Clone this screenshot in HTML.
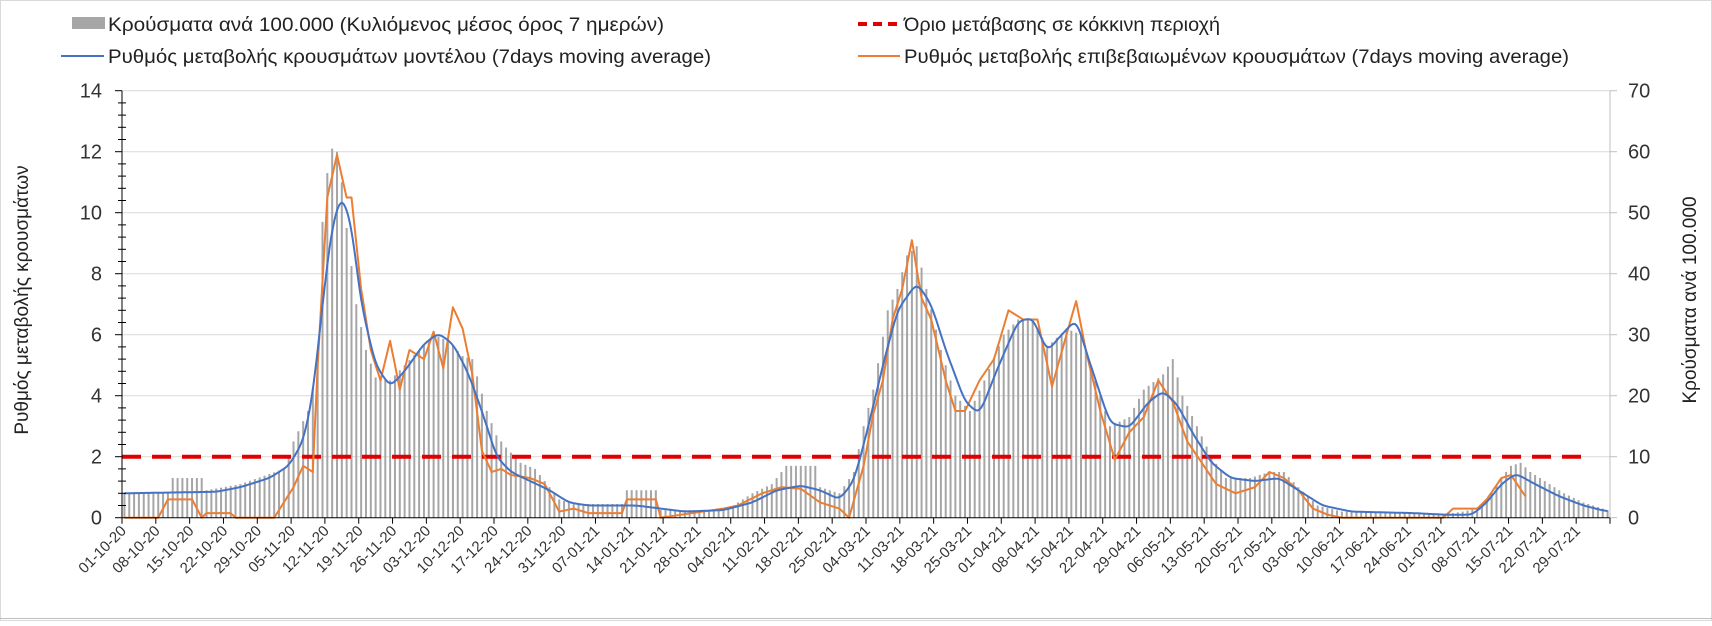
<!DOCTYPE html>
<html><head><meta charset="utf-8">
<style>
html,body{margin:0;padding:0;background:#fff;}
body{width:1712px;height:621px;overflow:hidden;font-family:"Liberation Sans",Arial,sans-serif;}
svg text{font-family:"Liberation Sans",Arial,sans-serif;}
</style></head>
<body>
<svg id="c" width="1712" height="621" xmlns="http://www.w3.org/2000/svg"></svg>
<script>
const X0=122,X1=1610,Y0=517.7,PU=30.5,ND=308,PD=(X1-X0)/ND;
const md=[0,31,61,92,123,151,182,212,243,273,304];
const mi={Oct:0,Nov:1,Dec:2,Jan:3,Feb:4,Mar:5,Apr:6,May:7,Jun:8,Jul:9,Aug:10};
function d(s){const [m,dd]=s.split(' ');return md[mi[m]]+(+dd)-1;}
function P(str){return str.split(';').map(t=>{t=t.trim();const i=t.lastIndexOf(' ');return [d(t.slice(0,i)),+t.slice(i+1)];});}
function interp(pts,x){if(x<=pts[0][0])return pts[0][1];for(let i=1;i<pts.length;i++){if(x<=pts[i][0]){const a=pts[i-1],b=pts[i];return a[1]+(b[1]-a[1])*(x-a[0])/(b[0]-a[0]||1);}}return pts[pts.length-1][1];}
const bars=P("Oct 1 0.8;Oct 10 0.8;Oct 11 1.3;Oct 17 1.3;Oct 18 0.9;Oct 25 1.1;Nov 3 1.6;Nov 5 2.5;Nov 8 3.5;Nov 10 5;Nov 11 9.7;Nov 12 11.3;Nov 13 12.1;Nov 14 12;Nov 15 11;Nov 16 9.5;Nov 18 7;Nov 20 5.5;Nov 22 4.6;Nov 25 4.5;Nov 28 5;Dec 1 5.5;Dec 4 6;Dec 7 5.8;Dec 10 5.3;Dec 12 5.2;Dec 15 3.5;Dec 17 2.7;Dec 19 2.3;Dec 22 1.8;Dec 25 1.6;Dec 27 1.2;Dec 30 0.6;Jan 2 0.45;Jan 12 0.45;Jan 13 0.9;Jan 19 0.9;Jan 20 0.25;Feb 1 0.25;Feb 4 0.4;Feb 8 0.8;Feb 12 1.1;Feb 15 1.7;Feb 21 1.7;Feb 22 1.0;Feb 26 0.8;Mar 1 1.5;Mar 3 3;Mar 5 4.2;Mar 8 6.8;Mar 10 7.5;Mar 12 8.6;Mar 14 8.9;Mar 16 7.5;Mar 19 5.5;Mar 22 4;Mar 25 3.5;Mar 28 4.5;Apr 1 6;Apr 4 6.5;Apr 7 6.5;Apr 10 5.6;Apr 14 6.2;Apr 17 6;Apr 20 4.5;Apr 23 3;Apr 27 3.3;Apr 30 4.2;May 4 4.7;May 6 5.2;May 8 4;May 11 3;May 14 2;May 17 1.3;May 22 1.3;May 26 1.5;May 29 1.5;Jun 1 1;Jun 5 0.4;Jun 10 0.2;Jun 20 0.15;Jul 1 0.1;Jul 5 0.2;Jul 8 0.3;Jul 11 0.8;Jul 13 1.3;Jul 15 1.7;Jul 17 1.8;Jul 19 1.5;Jul 22 1.2;Jul 26 0.8;Jul 30 0.5;Aug 4 0.25");
const blue=P("Oct 1 0.8;Oct 20 0.85;Oct 25 1.0;Oct 31 1.3;Nov 4 1.7;Nov 7 2.5;Nov 9 4;Nov 11 7;Nov 13 9.6;Nov 15 10.6;Nov 17 9.6;Nov 19 7;Nov 22 5;Nov 25 4.3;Nov 28 4.8;Dec 2 5.7;Dec 5 6.05;Dec 8 5.7;Dec 11 4.8;Dec 14 3.5;Dec 17 2;Dec 20 1.5;Dec 24 1.2;Dec 28 0.9;Jan 1 0.5;Jan 5 0.4;Jan 15 0.4;Jan 25 0.2;Feb 2 0.25;Feb 8 0.5;Feb 13 0.9;Feb 18 1.05;Feb 22 0.9;Feb 26 0.6;Mar 1 1.2;Mar 4 3;Mar 7 5;Mar 10 6.8;Mar 14 7.7;Mar 17 7;Mar 20 5.5;Mar 24 3.8;Mar 27 3.4;Mar 31 5;Apr 4 6.45;Apr 7 6.55;Apr 10 5.45;Apr 13 6;Apr 16 6.5;Apr 19 5;Apr 23 3.1;Apr 27 2.95;May 1 3.8;May 4 4.15;May 7 3.7;May 10 2.8;May 14 1.8;May 18 1.3;May 23 1.2;May 28 1.3;Jun 2 0.8;Jun 6 0.4;Jun 12 0.2;Jun 25 0.15;Jul 1 0.1;Jul 7 0.1;Jul 10 0.5;Jul 13 1.1;Jul 16 1.45;Jul 20 1.1;Jul 25 0.7;Jul 30 0.4;Aug 4 0.2");
const orange=P("Oct 1 0;Oct 8 0;Oct 10 0.6;Oct 15 0.6;Oct 17 0;Oct 18 0.15;Oct 23 0.15;Oct 24 0;Nov 1 0;Nov 3 0.5;Nov 5 1.0;Nov 7 1.7;Nov 9 1.5;Nov 10 5;Nov 12 10.5;Nov 14 11.9;Nov 16 10.5;Nov 17 10.5;Nov 19 7.5;Nov 21 5.5;Nov 23 4.5;Nov 25 5.8;Nov 27 4.2;Nov 29 5.5;Dec 2 5.2;Dec 4 6.1;Dec 6 4.9;Dec 8 6.9;Dec 10 6.2;Dec 12 4.7;Dec 14 2.2;Dec 16 1.5;Dec 18 1.6;Dec 20 1.4;Dec 24 1.3;Dec 27 1.1;Dec 30 0.2;Jan 2 0.3;Jan 5 0.15;Jan 12 0.15;Jan 13 0.6;Jan 19 0.6;Jan 20 0;Feb 2 0.3;Feb 5 0.4;Feb 10 0.8;Feb 14 1.0;Feb 18 0.95;Feb 22 0.5;Feb 26 0.3;Feb 28 0;Mar 3 1.7;Mar 5 3.4;Mar 7 4.5;Mar 9 6.5;Mar 11 7.5;Mar 13 9.1;Mar 15 7.2;Mar 17 6.5;Mar 20 4.5;Mar 22 3.5;Mar 24 3.5;Mar 27 4.5;Mar 30 5.2;Apr 2 6.8;Apr 5 6.5;Apr 8 6.5;Apr 11 4.3;Apr 14 6.0;Apr 16 7.1;Apr 18 5.5;Apr 21 3.5;Apr 24 1.9;Apr 27 2.8;Apr 30 3.3;May 3 4.5;May 6 3.8;May 9 2.5;May 12 1.8;May 15 1.1;May 19 0.8;May 23 1.0;May 26 1.5;May 29 1.3;Jun 1 0.9;Jun 4 0.3;Jun 7 0.1;Jun 10 0;Jul 1 0;Jul 3 0.3;Jul 8 0.3;Jul 10 0.6;Jul 13 1.3;Jul 15 1.4;Jul 18 0.7");
let s='';
const Y=v=>Y0-v*PU, Xd=i=>X0+(i+0.5)*PD;
s+=`<rect x="0.5" y="0.5" width="1711" height="620" fill="none" stroke="#d9d9d9"/>`;
s+=`<line x1="0" y1="618.5" x2="1712" y2="618.5" stroke="#bfbfbf"/>`;
for(let v=2;v<=14;v+=2)s+=`<line x1="${X0}" y1="${Y(v)}" x2="${X1}" y2="${Y(v)}" stroke="#d9d9d9"/>`;
for(let i=0;i<ND;i++){const v=interp(bars,i);s+=`<rect x="${(Xd(i)-1).toFixed(2)}" y="${Y(v).toFixed(2)}" width="2" height="${(v*PU).toFixed(2)}" fill="#a6a6a6"/>`;}
s+=`<line x1="${X0}" y1="${Y(2)}" x2="${X1-20}" y2="${Y(2)}" stroke="#e00000" stroke-width="4" stroke-dasharray="19,11"/>`;
function line(pts,end,col,smooth){let vals=[];const st=0.25;for(let t=0;t<=end;t+=st)vals.push([t,interp(pts,t)]);
 if(smooth){const k=Math.round(1.6/st);let out=[];for(let i=0;i<vals.length;i++){let sum=0,w=0;for(let j=-k;j<=k;j++){const q=i+j;if(q<0||q>=vals.length)continue;const ww=Math.exp(-(j*j)/(2*(k/2)*(k/2)));sum+=vals[q][1]*ww;w+=ww;}out.push([vals[i][0],sum/w]);}vals=out;}
 const p=vals.map(v=>Xd(v[0]).toFixed(1)+','+Y(v[1]).toFixed(1));return `<polyline points="${p.join(' ')}" fill="none" stroke="${col}" stroke-width="2" stroke-linejoin="round"/>`;}
s+=line(orange,d("Jul 18"),'#ed7d31',false);
s+=line(blue,ND-1,'#4472c4',true);
s+=`<line x1="${X0}" y1="${Y(14)}" x2="${X0}" y2="${Y0}" stroke="#000"/>`;
s+=`<line x1="${X0}" y1="${Y0}" x2="${X1}" y2="${Y0}" stroke="#000"/>`;
s+=`<line x1="${X1}" y1="${Y(14)}" x2="${X1}" y2="${Y0}" stroke="#bfbfbf"/>`;
for(let k=0;k<=35;k++){const v=k*0.4,y=Y(v);const maj=Math.abs(v/2-Math.round(v/2))<1e-6;s+=`<line x1="${maj?X0-7:X0-4}" y1="${y}" x2="${X0+(maj?0:4)}" y2="${y}" stroke="#000"/>`;}
for(let v=0;v<=14;v+=2){s+=`<text x="${X0-20}" y="${Y(v)+7}" font-size="20" text-anchor="end" fill="#333">${v}</text>`;
 s+=`<line x1="${X1}" y1="${Y(v)}" x2="${X1+7}" y2="${Y(v)}" stroke="#bfbfbf"/>`;
 s+=`<text x="${X1+18}" y="${Y(v)+7}" font-size="20" fill="#333">${v*5}</text>`;}
const start=new Date(2020,9,1);
for(let w=0;w<=44;w++){const x=X0+w*7*PD;s+=`<line x1="${x}" y1="${Y0}" x2="${x}" y2="${Y0+6}" stroke="#000"/>`;
 if(w<44){const dt=new Date(start.getTime()+w*7*86400000);const lab=String(dt.getDate()).padStart(2,'0')+'-'+String(dt.getMonth()+1).padStart(2,'0')+'-'+String(dt.getFullYear()%100);
 s+=`<text transform="translate(${x+5},${Y0+14}) rotate(-45)" font-size="15" text-anchor="end" fill="#333">${lab}</text>`;}}
s+=`<text transform="translate(28,300) rotate(-90)" font-size="19" text-anchor="middle" fill="#222">Ρυθμός μεταβολής κρουσμάτων</text>`;
s+=`<text transform="translate(1696,300) rotate(-90)" font-size="19" text-anchor="middle" fill="#222">Κρούσματα ανά 100.000</text>`;
s+=`<rect x="72" y="17" width="33" height="12" fill="#a6a6a6"/><text x="108" y="31" font-size="19.5" textLength="556" lengthAdjust="spacingAndGlyphs" fill="#222">Κρούσματα ανά 100.000 (Κυλιόμενος μέσος όρος 7 ημερών)</text>`;
s+=`<line x1="61" y1="56" x2="104" y2="56" stroke="#4472c4" stroke-width="2"/><text x="108" y="63" font-size="19.5" textLength="603" lengthAdjust="spacingAndGlyphs" fill="#222">Ρυθμός μεταβολής κρουσμάτων μοντέλου (7days moving average)</text>`;
s+=`<line x1="858" y1="24" x2="900" y2="24" stroke="#e00000" stroke-width="4" stroke-dasharray="9,6"/><text x="904" y="31" font-size="19.5" textLength="316" lengthAdjust="spacingAndGlyphs" fill="#222">Όριο μετάβασης σε κόκκινη περιοχή</text>`;
s+=`<line x1="858" y1="56" x2="900" y2="56" stroke="#ed7d31" stroke-width="2"/><text x="904" y="63" font-size="19.5" textLength="665" lengthAdjust="spacingAndGlyphs" fill="#222">Ρυθμός μεταβολής επιβεβαιωμένων κρουσμάτων (7days moving average)</text>`;
document.getElementById('c').innerHTML=s;
</script>
</body></html>
